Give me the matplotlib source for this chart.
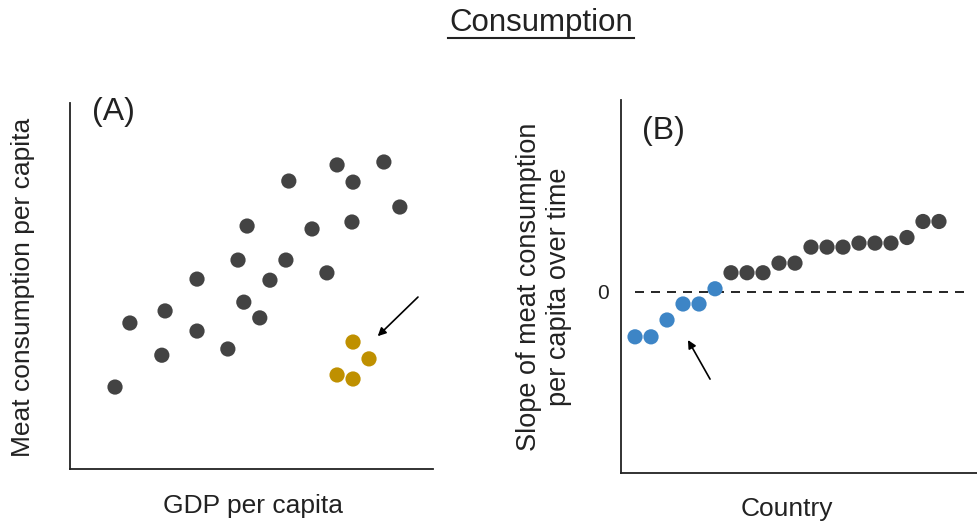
import numpy as np
import matplotlib.pyplot as plt

plt.rcParams['font.family'] = ['Liberation Sans', 'DejaVu Sans']

# panel A: GDP vs meat consumption (arbitrary units)
gdp = [1.24, 1.65, 2.53, 2.62, 3.50, 3.50, 4.35, 4.63, 4.79, 4.88, 5.23,
       5.51, 5.95, 6.03, 6.67, 7.08, 7.36, 7.80, 7.77, 8.65, 9.09]
meat = [2.24, 3.99, 3.11, 4.32, 5.19, 3.77, 3.28, 5.71, 4.56, 6.64, 4.13,
        5.16, 5.71, 7.87, 6.56, 5.36, 8.31, 7.84, 6.75, 8.39, 7.16]
gdp_outlier = [7.80, 8.24, 7.36, 7.80]
meat_outlier = [3.47, 3.01, 2.57, 2.46]

# panel B: slope of consumption per country, sorted
slope_neg = [-2.8, -2.8, -1.75, -0.75, -0.75, 0.2]
slope_pos = [1.2, 1.2, 1.2, 1.8, 1.8, 2.8, 2.8, 2.8, 3.05, 3.05, 3.05,
             3.4, 4.4, 4.4]

dark = '#434343'
gold = '#bf9000'
blue = '#3d85c6'
ink = '#222222'

W, H = 978, 522
fig = plt.figure(figsize=(W / 100, H / 100), dpi=100)


def px(x, y):
    # pixel position (from top-left) -> figure fraction
    return x / W, 1 - y / H


fig.text(*px(541, 23), 'Consumption', ha='center', va='center', fontsize=22.5,
         color=ink)
x0, y0 = px(448, 38)
x1, _ = px(634, 38)
fig.add_artist(plt.Line2D([x0, x1], [y0, y0], color=ink, lw=1.5))

# --- (A)
axA = fig.add_axes([0.0716, 0.1015, 0.371, 0.701])
axA.scatter(gdp, meat, s=120, color=dark, edgecolors='none')
axA.scatter(gdp_outlier, meat_outlier, s=120, color=gold, edgecolors='none')
axA.annotate('', xy=(8.48, 3.63), xytext=(9.59, 4.70),
             arrowprops=dict(arrowstyle='-|>', color='black', lw=1.2,
                             mutation_scale=12, shrinkA=0, shrinkB=0))
axA.set_xlim(0, 10)
axA.set_ylim(0, 10)
axA.text(0.6, 9.75, '(A)', fontsize=23, va='center', color=ink)
axA.set_yticks([])

fig.text(*px(253, 506), 'GDP per capita', ha='center', va='center',
         fontsize=19, color=ink)
fig.text(*px(23, 287), 'Meat consumption per capita', ha='center',
         va='center', rotation=90, fontsize=19, color=ink)

# --- (B)
axB = fig.add_axes([0.635, 0.0939, 0.365, 0.715])
x_neg = np.arange(len(slope_neg))
x_pos = np.arange(len(slope_neg), len(slope_neg) + len(slope_pos))
axB.plot([0, 20.7], [0, 0], color='black', lw=1.2, ls=(0, (5.4, 4.2)))
axB.scatter(x_neg, slope_neg, s=120, color=blue, edgecolors='none', zorder=3)
axB.scatter(x_pos, slope_pos, s=120, color=dark, edgecolors='none', zorder=3)
axB.annotate('', xy=(3.31, -3.0), xytext=(4.69, -5.44),
             arrowprops=dict(arrowstyle='-|>', color='black', lw=1.2,
                             mutation_scale=12, shrinkA=0, shrinkB=0))
axB.set_xlim(-0.875, 21.44)
axB.set_ylim(-11.3, 12.0)
axB.text(0.45, 10.06, '(B)', fontsize=23, va='center', color=ink)
axB.set_yticks([0])
axB.set_yticklabels(['0'], fontsize=15, color=ink)
axB.tick_params(axis='y', length=0, pad=9)

fig.text(*px(787, 509), 'Country', ha='center', va='center', fontsize=19,
         color=ink)
fig.text(*px(544, 287), 'Slope of meat consumption\nper capita over time',
         ha='center', va='center', rotation=90, fontsize=19.5, color=ink,
         linespacing=1.25)

for ax in (axA, axB):
    for side in ('top', 'right'):
        ax.spines[side].set_visible(False)
    for side in ('left', 'bottom'):
        ax.spines[side].set_linewidth(1.3)
        ax.spines[side].set_color(ink)
    ax.set_xticks([])

fig.savefig('out.png', dpi=100)
